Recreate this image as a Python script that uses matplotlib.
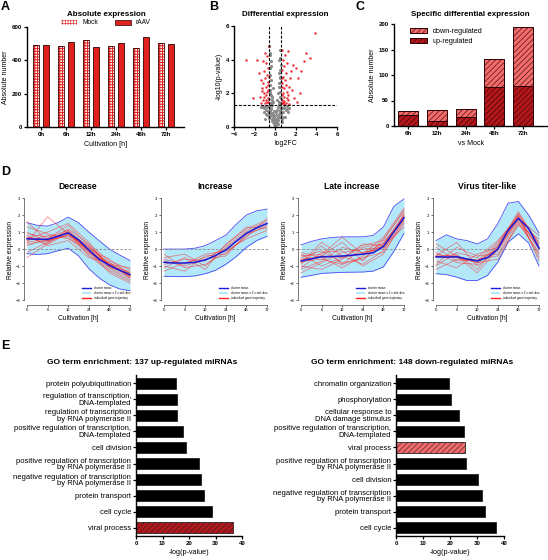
import numpy as np
import matplotlib
matplotlib.use('Agg')
import matplotlib.pyplot as plt
from matplotlib.patches import Patch
from matplotlib.lines import Line2D

plt.rcParams['font.family'] = ['Liberation Sans', 'DejaVu Sans']
plt.rcParams['hatch.linewidth'] = 0.4

# ── A: absolute expression ────────────────────────────────────────────────
hours_a = ['0h', '6h', '12h', '24h', '48h', '72h']
mock_counts = [493, 484, 519, 485, 473, 504]
raav_counts = [494, 510, 477, 506, 542, 500]

# ── B: volcano (log2FC, -log10 p) ─────────────────────────────────────────
gray_x = [0.0, 0.1, -0.1, 0.05, -0.05, 0.2, -0.2, 0.15, -0.15, 0.25, -0.25, 0.3, -0.3,
          0.35, -0.35, 0.4, -0.4, 0.45, -0.45, 0.5, -0.5, 0.55, -0.55, 0.6, -0.65, 0.7,
          -0.75, 0.8, -0.85, 0.9, -0.95, 1.0, -1.05, 1.1, -1.2, 0.65, -0.6, 0.3, -0.3,
          0.12, -0.1, 1.3, -1.35, 0.75, -0.8, 0.02, -0.02, 0.08, -0.12, 0.22, -0.18,
          0.35, -0.35, 0.45, -0.45, 0.5, -0.5, 0.4, -0.55, 0.55, -0.4, 0.5, -0.5,
          0.45, -0.55, 0.55, -0.45, 0.5, -0.5, 0.42, -0.58, 0.3, -0.25, 0.35, -0.3,
          0.2, -0.2, 0.48, -0.42, 0.38, -0.48, 0.6, -0.7, 0.85, -0.9, 1.15, -1.1,
          0.28, -0.32, 0.52, -0.52, 0.18, -0.08, 0.95, -0.6, 0.7, -1.0, 1.25, 0.4, -0.4,
          0.56, -0.56, 0.46, -0.38, 0.5, -0.47, 0.4, -0.52]
gray_y = [0.05, 0.1, 0.15, 0.3, 0.25, 0.2, 0.3, 0.45, 0.5, 0.6, 0.65, 0.4, 0.45,
          0.8, 0.85, 0.6, 0.7, 1.0, 1.05, 0.9, 0.95, 1.2, 1.15, 0.8, 0.85, 1.1,
          1.2, 0.9, 1.0, 1.2, 1.25, 1.0, 1.1, 1.25, 1.2, 0.5, 0.55, 1.2, 1.3,
          0.7, 0.6, 1.15, 1.2, 0.6, 0.7, 0.5, 0.4, 0.9, 0.95, 1.0, 0.8,
          1.5, 1.6, 1.8, 1.9, 2.1, 2.2, 2.4, 2.5, 2.7, 2.8, 3.0, 3.1,
          3.4, 3.5, 3.7, 3.9, 4.1, 4.3, 4.6, 4.8, 2.0, 2.3, 2.6, 1.8,
          1.6, 1.5, 1.4, 1.45, 3.2, 2.0, 1.05, 0.95, 1.15, 0.75, 1.05, 0.9,
          0.2, 0.35, 0.55, 0.65, 0.3, 0.4, 0.6, 1.25, 0.3, 0.5, 0.9, 1.35, 1.1,
          1.7, 1.65, 2.9, 3.6, 2.35, 2.0, 4.0, 4.4]
red_x = [0.65, 0.7, 0.8, 0.9, 1.0, 0.75, 0.85, 1.1, 1.2, 0.7, 0.95, 1.3, 0.8, 1.05,
         0.7, 0.9, 1.4, 1.6, 1.8, 1.5, 0.75, 0.95, 1.2, 0.65, 1.7, 2.0, 2.2, 2.5,
         2.4, 2.1, 3.0, 3.4, 3.9, 2.8, 1.3, 0.68, 1.0, 0.62, 1.15, 0.85,
         -0.65, -0.7, -0.8, -0.9, -1.0, -0.75, -0.85, -1.1, -1.2, -0.7, -0.95, -1.3,
         -0.8, -1.05, -0.7, -0.9, -1.4, -1.5, -0.75, -1.0, -0.65, -1.2, -1.6, -1.8,
         -2.2, -2.8, -1.35, -0.68, -1.15, -0.62, 0.72, 0.9, 1.1, -0.72, -0.88, -1.05,
         0.66, -0.66, 1.25, -1.25]
red_y = [1.4, 1.6, 1.5, 1.8, 1.4, 2.0, 2.3, 2.1, 1.6, 2.6, 2.8, 2.4, 3.0, 3.2,
         3.4, 3.6, 2.9, 2.2, 1.7, 3.3, 4.0, 4.3, 4.5, 4.6, 3.7, 3.5, 2.9, 3.3,
         2.0, 1.5, 4.4, 4.1, 5.6, 3.9, 1.35, 1.9, 2.5, 2.9, 3.8, 1.35,
         1.4, 1.7, 1.5, 1.9, 1.45, 2.1, 2.4, 2.0, 1.6, 2.7, 2.9, 2.3,
         3.1, 3.3, 3.5, 3.8, 2.8, 1.8, 4.2, 4.4, 4.8, 3.9, 3.2, 4.0,
         1.7, 4.0, 1.4, 2.2, 2.6, 3.0, 1.45, 1.55, 1.75, 1.5, 1.6, 1.8,
         2.4, 2.5, 1.9, 2.15]

# ── C: specific differential expression ──────────────────────────────────
hours_c = ['6h', '12h', '24h', '48h', '72h']
up_counts = [21, 9, 18, 76, 78]
down_counts = [8, 22, 16, 55, 116]

# ── D: cluster trajectories ───────────────────────────────────────────────
hours_d = ['0', '6', '12', '24', '48', '72']
cluster_titles = ['Decrease', 'Increase', 'Late increase', 'Virus titer-like']
# mean / band read at every half time step
mean_dec = [0.6, 0.58, 0.57, 0.75, 0.95, 0.55, -0.05, -0.6, -0.96, -1.25, -1.5]
upper_dec = [1.55, 1.4, 1.35, 1.55, 1.88, 1.55, 1.0, 0.5, 0.0, -0.35, -0.67]
lower_dec = [-0.27, -0.32, -0.27, -0.1, 0.05, -0.4, -1.15, -1.7, -2.1, -2.35, -2.45]
mean_inc = [-0.78, -0.82, -0.82, -0.78, -0.64, -0.38, -0.06, 0.45, 0.92, 1.25, 1.5]
upper_inc = [0.0, 0.0, 0.0, 0.05, 0.2, 0.5, 0.82, 1.45, 2.0, 2.25, 2.35]
lower_inc = [-1.6, -1.62, -1.62, -1.58, -1.45, -1.25, -0.9, -0.45, 0.1, 0.5, 0.75]
mean_late = [-0.7, -0.58, -0.45, -0.44, -0.41, -0.36, -0.3, -0.22, 0.15, 1.0, 1.84]
upper_late = [0.25, 0.45, 0.6, 0.68, 0.72, 0.72, 0.72, 0.8, 1.3, 2.5, 2.95]
lower_late = [-1.66, -1.55, -1.43, -1.4, -1.37, -1.36, -1.35, -1.3, -1.05, -0.15, 0.92]
mean_vir = [-0.45, -0.47, -0.45, -0.58, -0.7, -0.5, 0.0, 1.1, 1.8, 1.2, 0.05]
upper_vir = [0.5, 0.84, 0.6, 0.5, 0.3, 0.6, 1.5, 2.7, 2.8, 2.0, 0.95]
lower_vir = [-1.45, -1.5, -1.65, -1.85, -1.85, -1.55, -0.77, 0.4, 0.9, 0.35, -1.0]

traj_dec = [[0.9, 0.7, 1.1, 0.1, -0.8, -1.4], [0.3, 0.5, 0.8, -0.2, -1.1, -1.7],
            [1.0, 0.4, 1.2, 0.3, -0.7, -1.2], [0.5, 0.8, 0.7, -0.3, -1.2, -1.8],
            [0.2, 0.6, 1.4, 0.2, -0.9, -1.6], [0.7, 0.3, 0.9, -0.1, -1.0, -1.3],
            [1.3, 0.9, 0.6, 0.0, -0.6, -1.5], [-0.2, 0.4, 1.0, -0.4, -1.3, -1.9],
            [0.6, 1.0, 1.5, 0.4, -1.1, -1.4], [0.8, 0.2, 0.5, -0.5, -0.8, -1.7],
            [0.4, 0.6, 1.0, -0.1, -1.4, -2.0], [1.6, 0.5, 0.8, 0.1, -0.9, -1.1],
            [0.4, 1.9, 0.9, 0.2, -1.0, -1.6], [-0.5, 0.3, 1.1, -0.2, -0.9, -1.5],
            [0.6, 0.6, 0.9, 0.0, -1.0, -1.5], [0.7, 0.5, 1.0, -0.1, -0.9, -1.6]]
traj_inc = [[-0.5, -0.3, -1.0, 0.1, 1.1, 1.6], [-1.0, -1.3, -0.4, -0.3, 0.8, 1.4],
            [-0.9, -0.6, -0.7, 0.2, 1.3, 1.2], [-0.3, -1.1, -0.9, -0.2, 0.7, 1.8],
            [-1.3, -0.8, -0.5, 0.0, 1.0, 1.5], [-0.7, -1.0, -0.6, -0.4, 0.9, 1.3],
            [-1.1, -0.5, -1.2, 0.3, 1.2, 1.7], [-0.6, -0.9, -0.3, -0.1, 0.6, 1.1]]
traj_late = [[-0.5, -0.1, -0.8, -0.6, 0.3, 2.0], [-1.2, -0.7, 0.1, -0.2, 0.0, 1.6],
             [-0.3, -1.0, -0.5, 0.2, 0.5, 2.3], [-0.9, 0.2, -0.9, -0.5, -0.2, 1.5],
             [-0.6, -0.4, 0.4, -0.7, 0.6, 2.2], [-1.4, -0.8, -0.2, 0.0, 0.1, 1.9],
             [-0.2, -0.5, -1.1, -0.4, 0.4, 1.7], [-0.8, 0.4, -0.4, -0.9, -0.1, 2.1],
             [-1.0, -1.2, -0.6, 0.3, 0.2, 1.3], [-0.4, -0.3, 0.7, -0.3, 0.7, 2.4],
             [-1.1, -0.2, -0.1, -1.0, -0.3, 1.8], [-0.7, -0.6, -0.9, 0.1, 0.3, 2.0],
             [-0.6, -0.5, -0.4, -0.3, 0.2, 1.9], [-0.8, -0.4, -0.5, -0.2, 0.1, 1.8]]
traj_vir = [[-0.2, -0.8, -0.9, 0.3, 2.0, 0.4], [-0.9, 0.1, -0.4, -0.3, 1.6, -0.3],
            [-0.5, -0.3, -1.2, 0.2, 2.2, 0.2], [0.1, -0.7, -0.6, -0.4, 1.4, 0.6],
            [-1.0, -0.2, -0.5, 0.5, 1.9, -0.5], [-0.4, 0.4, -1.0, -0.1, 1.7, 0.0],
            [-0.7, -1.1, -0.3, 0.1, 2.1, 0.3], [-0.3, -0.5, -0.8, -0.6, 1.5, -0.2],
            [0.3, -0.4, -1.4, 0.0, 1.8, 0.8], [-1.2, -0.6, -0.7, 0.4, 2.0, -0.7],
            [-0.5, -0.5, -0.7, 0.0, 1.8, 0.1], [-0.4, -0.4, -0.8, 0.1, 1.9, 0.0]]

# ── E: GO term enrichment ─────────────────────────────────────────────────
go_up_terms = ['viral process', 'cell cycle', 'protein transport',
               'negative regulation of transcription\nby RNA polymerase II',
               'positive regulation of transcription\nby RNA polymerase II',
               'cell division',
               'positive regulation of transcription,\nDNA-templated',
               'regulation of transcription\nby RNA polymerase II',
               'regulation of transcription,\nDNA-templated',
               'protein polyubiquitination']
go_up_vals = [36.7, 28.5, 25.5, 24.4, 23.8, 18.9, 17.7, 15.6, 15.4, 15.0]
go_down_terms = ['cell cycle', 'protein transport',
                 'negative regulation of transcription\nby RNA polymerase II',
                 'cell division',
                 'positive regulation of transcription\nby RNA polymerase II',
                 'viral process',
                 'positive regulation of transcription,\nDNA-templated',
                 'cellular response to\nDNA damage stimulus',
                 'phosphorylation', 'chromatin organization']
go_down_vals = [36.9, 32.9, 31.9, 30.4, 26.1, 25.5, 25.1, 23.3, 20.3, 19.6]

# ── figure helpers ─────────────────────────────────────────────────────────
W, H = 548, 560
fig = plt.figure(figsize=(W / 100, H / 100), dpi=100)


def px_axes(left, top, right, bottom):
    return fig.add_axes([left / W, 1 - bottom / H, (right - left) / W, (bottom - top) / H])


def prism_style(ax, fs=4.4):
    for s in ['top', 'right']:
        ax.spines[s].set_visible(False)
    for s in ['left', 'bottom']:
        ax.spines[s].set_linewidth(1.0)
    ax.tick_params(direction='out', length=2.2, width=0.9, pad=1.5, labelsize=fs)
    for lab in ax.get_xticklabels() + ax.get_yticklabels():
        lab.set_fontweight('bold')


def letter(x, y, s):
    fig.text(x / W, 1 - y / H, s, fontsize=9, fontweight='bold', va='center', ha='left')


RED = '#e0201e'
DARK_RED = '#b3171c'
LIGHT_RED = '#f26a6a'

# ── Panel A ───────────────────────────────────────────────────────────────
axA = px_axes(27, 27, 184, 127)
xa = np.arange(len(hours_a))
bw = 0.24
with plt.rc_context({'hatch.linewidth': 0.75}):
    axA.bar(xa - 0.19, mock_counts, bw, color='white', edgecolor=RED, hatch='++++++', lw=0)
    mock_patch = Patch(facecolor='white', edgecolor=RED, hatch='++++++', lw=0, label='Mock')
axA.bar(xa - 0.19, mock_counts, bw, fill=False, edgecolor='#3a0000', lw=0.6)
axA.bar(xa + 0.19, raav_counts, bw, color=RED, edgecolor='#2a0000', lw=0.6)
axA.set_xlim(-0.56, 5.72)
axA.set_ylim(0, 600)
axA.set_yticks([0, 200, 400, 600])
axA.set_xticks(xa)
axA.set_xticklabels(hours_a)
axA.tick_params(axis='x', length=0)
prism_style(axA)
axA.set_ylabel('Absolute number', fontsize=5, labelpad=2)
axA.set_xlabel('Cultivation [h]', fontsize=5, labelpad=3)
fig.text(106 / W, 1 - 14 / H, 'Absolute expression', fontsize=5.8, fontweight='bold',
         ha='center', va='center')
legA = [mock_patch, Patch(facecolor=RED, edgecolor='#2a0000', lw=0.5, label='rAAV')]
fig.legend(handles=legA, loc='center', bbox_to_anchor=(106 / W, 1 - 23 / H), ncol=2,
           frameon=False, fontsize=4.8, handlelength=2.4, handleheight=0.7,
           columnspacing=2.6, handletextpad=0.7, borderpad=0)
letter(1, 7, 'A')

# ── Panel B ───────────────────────────────────────────────────────────────
axB = px_axes(234, 26, 337, 127)
axB.scatter(gray_x, gray_y, s=5, color='#8a8a8a', lw=0, zorder=2)
axB.scatter(red_x, red_y, s=3, color='#ec2b35', lw=0, zorder=3)
axB.axvline(-0.58, color='black', ls=(0, (2.5, 1.5)), lw=0.8, zorder=4)
axB.axvline(0.58, color='black', ls=(0, (2.5, 1.5)), lw=0.8, zorder=4)
axB.axhline(1.3, color='black', ls=(0, (2.5, 1.5)), lw=0.8, zorder=4)
axB.set_xlim(-4, 6)
axB.set_ylim(0, 6)
axB.set_xticks([-4, -2, 0, 2, 4, 6])
axB.set_yticks([0, 2, 4, 6])
prism_style(axB)
axB.set_ylabel('-log10(p-value)', fontsize=5, labelpad=2)
axB.set_xlabel('log2FC', fontsize=5, labelpad=2)
axB.set_title('Differential expression', fontsize=5.8, fontweight='bold', pad=7)
letter(209, 7, 'B')

# ── Panel C ───────────────────────────────────────────────────────────────
axC = px_axes(394, 24, 547, 126)
xc = np.arange(len(hours_c))
axC.bar(xc, up_counts, 0.69, color=DARK_RED, edgecolor='#2a0000', hatch='//////', lw=0.7,
        label='up-regulated')
axC.bar(xc, down_counts, 0.69, bottom=up_counts, color=LIGHT_RED, edgecolor='#2a0000',
        hatch='//////', lw=0.7, label='down-regulated')
axC.set_xlim(-0.49, 4.83)
axC.set_ylim(0, 200)
axC.set_yticks([0, 50, 100, 150, 200])
axC.set_xticks(xc)
axC.set_xticklabels(hours_c)
axC.tick_params(axis='x', length=0)
prism_style(axC)
axC.set_ylabel('Absolute number', fontsize=5, labelpad=2)
axC.set_xlabel('vs Mock', fontsize=5, labelpad=3)
axC.set_title('Specific differential expression', fontsize=5.8, fontweight='bold', pad=6)
h, l = axC.get_legend_handles_labels()
axC.legend(h[::-1], l[::-1], loc='upper left', bbox_to_anchor=(0.08, 1.0), frameon=False,
           fontsize=5.2, handlelength=2.4, handleheight=0.8, handletextpad=0.8,
           borderpad=0, labelspacing=0.4)
letter(356, 7, 'C')

# ── Panel D ───────────────────────────────────────────────────────────────
means = [mean_dec, mean_inc, mean_late, mean_vir]
uppers = [upper_dec, upper_inc, upper_late, upper_vir]
lowers = [lower_dec, lower_inc, lower_late, lower_vir]
trajs = [traj_dec, traj_inc, traj_late, traj_vir]
d_left = [27, 164, 301, 436]
half_pos = np.arange(len(mean_dec)) * 0.5
pos_d = np.arange(len(hours_d))
for i in range(4):
    x0 = d_left[i]
    step = 20.6
    ax = px_axes(x0 - 0.15 * step, 195, x0 + 5.1 * step, 305)
    ax.fill_between(half_pos, lowers[i], uppers[i], color='#b2e8f8', lw=0, zorder=1)
    ax.plot(half_pos, uppers[i], color='#4a4af5', lw=0.6, zorder=2)
    ax.plot(half_pos, lowers[i], color='#4a4af5', lw=0.6, zorder=2)
    for tr in trajs[i]:
        ax.plot(pos_d, tr, color='#ff2020', lw=0.55, alpha=0.55, zorder=3)
    ax.axhline(0, color='#888888', ls=(0, (3, 2)), lw=0.6, zorder=4)
    ax.plot(half_pos, means[i], color='#1a1ad8', lw=1.1, zorder=5)
    ax.set_xlim(-0.15, 5.1)
    ax.set_ylim(-3.29, 3.18)
    ax.set_xticks(pos_d)
    ax.set_xticklabels(hours_d)
    ax.set_yticks(np.arange(-3, 4))
    for s in ['top', 'right']:
        ax.spines[s].set_visible(False)
    ax.spines['left'].set_bounds(-3, 3)
    ax.spines['bottom'].set_bounds(0, 5)
    for s in ['left', 'bottom']:
        ax.spines[s].set_linewidth(0.5)
        ax.spines[s].set_color('#444444')
    ax.tick_params(direction='out', length=1.5, width=0.4, pad=1, labelsize=3)
    ax.set_ylabel('Relative expression', fontsize=4.8, labelpad=1)
    ax.set_xlabel('Cultivation [h]', fontsize=4.8, labelpad=1.5)
    ax.set_title(cluster_titles[i], fontsize=6.2, fontweight='bold', pad=4)
    legD = [Line2D([], [], color='#1a1ad8', lw=1.0, label='cluster mean'),
            Patch(facecolor='#b2e8f8', lw=0, label='cluster mean ± 2 x std. dev.'),
            Line2D([], [], color='#ff2020', lw=1.0, label='individual gene trajectory')]
    ax.legend(handles=legD, loc='lower right', bbox_to_anchor=(1.0, 0.03), frameon=False,
              fontsize=2.2, handlelength=3, handletextpad=0.8, labelspacing=0.4,
              borderpad=0)
letter(1, 172, 'D')

# ── Panel E ───────────────────────────────────────────────────────────────
def go_panel(left, right, terms, vals, highlight, hcolor, title, tx):
    ax = px_axes(left, 375, right, 536)
    y = np.arange(len(terms))
    colors = [hcolor if t == highlight else 'black' for t in terms]
    hatches = ['//////' if t == highlight else None for t in terms]
    for yi, v, c, ht in zip(y, vals, colors, hatches):
        ax.barh(yi, v, 0.68, color=c, edgecolor='#222222', hatch=ht, lw=0.6)
    ax.set_yticks(y)
    ax.set_yticklabels(terms, fontsize=5.5, linespacing=0.9)
    ax.set_ylim(-0.5, 9.5)
    ax.set_xlim(0, 40)
    ax.set_xticks([0, 10, 20, 30, 40])
    for s in ['top', 'right']:
        ax.spines[s].set_visible(False)
    for s in ['left', 'bottom']:
        ax.spines[s].set_linewidth(1.0)
    ax.tick_params(direction='out', length=2.2, width=0.9, pad=1.2)
    ax.tick_params(axis='x', labelsize=4.4)
    for lab in ax.get_xticklabels():
        lab.set_fontweight('bold')
    ax.set_xlabel('-log(p-value)', fontsize=5.2, labelpad=2)
    fig.text(tx / W, 1 - 363 / H, title, fontsize=6.0, fontweight='bold', ha='center',
             va='center')
    return ax


go_panel(136, 242, go_up_terms, go_up_vals, 'viral process', DARK_RED,
         'GO term enrichment: 137 up-regulated miRNAs', 142)
go_panel(396, 504, go_down_terms, go_down_vals, 'viral process', LIGHT_RED,
         'GO term enrichment: 148 down-regulated miRNAs', 412)
letter(1, 346, 'E')

fig.savefig('out.png', dpi=100)
